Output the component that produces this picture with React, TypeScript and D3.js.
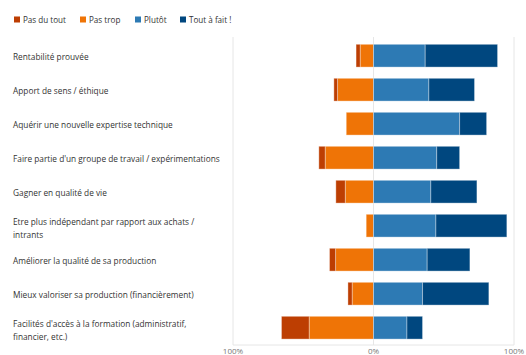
import React from "react";
import * as d3 from "d3";

const categories = [
  "Rentabilité prouvée",
  "Apport de sens / éthique",
  "Aquérir une nouvelle expertise technique",
  "Faire partie d'un groupe de travail / expérimentations",
  "Gagner en qualité de vie",
  "Etre plus indépendant par rapport aux achats /\nintrants",
  "Améliorer la qualité de sa production",
  "Mieux valoriser sa production (financièrement)",
  "Facilités d'accès à la formation (administratif,\nfinancier, etc.)",
];
const seriesNames = ["Pas du tout", "Pas trop", "Plutôt", "Tout à fait !"];
const pasDuTout = [2.9, 2.6, 0, 4.5, 6.7, 0, 4.3, 3.0, 19.7];
const pasTrop = [9.5, 25.6, 19.4, 34.4, 20.1, 5.2, 27.0, 15.2, 45.8];
const plutot = [36.8, 39.4, 61.3, 45.0, 40.8, 44.4, 38.2, 34.9, 23.8];
const toutAFait = [51.5, 32.5, 19.2, 16.3, 32.8, 50.5, 30.4, 47.2, 11.1];
const ticks = [-100, 0, 100];
const tickLabels = ["100%", "0%", "100%"];

const colors = ["#bd3e02", "#ef7406", "#2d7ab4", "#00477f"];
const FONT = "'Open Sans', 'Noto Sans', sans-serif";

export default function App() {
  const W = 526, H = 355;
  const x = d3.scaleLinear().domain([-100, 100]).range([233, 514]);
  const y = d3
    .scaleBand<string>()
    .domain(categories)
    .range([38.7, 344.7])
    .paddingInner(0.33)
    .paddingOuter(0.165);

  const bars: { x0: number; x1: number; y: number; h: number; c: string; key: string }[] = [];
  categories.forEach((cat, i) => {
    const yy = y(cat)!;
    const h = y.bandwidth();
    const a = pasTrop[i];
    const b = pasDuTout[i];
    if (a > 0) bars.push({ x0: x(-a), x1: x(0), y: yy, h, c: colors[1], key: `pt${i}` });
    if (b > 0) bars.push({ x0: x(-a - b), x1: x(-a), y: yy, h, c: colors[0], key: `pd${i}` });
    const p = plutot[i];
    const t = toutAFait[i];
    bars.push({ x0: x(0), x1: x(p), y: yy, h, c: colors[2], key: `pl${i}` });
    bars.push({ x0: x(p), x1: x(p + t), y: yy, h, c: colors[3], key: `tf${i}` });
  });

  const legendX = [14, 80, 135, 180];

  return (
    <svg width={W} height={H} style={{ position: "absolute", left: 0, top: 0, background: "#fff" }}>
      {seriesNames.map((s, i) => (
        <g key={s}>
          <rect x={legendX[i]} y={16.5} width={6} height={6} fill={colors[i]} />
          <text x={legendX[i] + 9} y={22.5} fontFamily={FONT} fontSize={8.1} fill="#333">
            {s}
          </text>
        </g>
      ))}
      {ticks.map((t) => (
        <line key={t} x1={x(t)} x2={x(t)} y1={37} y2={345} stroke="#e6e6e6" strokeWidth={1} />
      ))}
      <line x1={x(-100)} x2={x(100)} y1={345} y2={345} stroke="#e6e6e6" strokeWidth={1} />
      {bars.map((b) => (
        <rect
          key={b.key}
          x={b.x0}
          y={b.y}
          width={Math.max(0, b.x1 - b.x0)}
          height={b.h}
          fill={b.c}
          stroke="#ffffff"
          strokeOpacity={0.35}
          strokeWidth={1}
        />
      ))}
      {categories.map((cat) => {
        const lines = cat.split("\n");
        const cy = y(cat)! + y.bandwidth() / 2;
        const start = lines.length === 1 ? cy + 4.5 : cy - 1;
        return (
          <text key={cat} fontFamily={FONT} fontSize={8.3} fill="#333">
            {lines.map((l, j) => (
              <tspan key={j} x={13} y={start + j * 13}>
                {l}
              </tspan>
            ))}
          </text>
        );
      })}
      {ticks.map((t, i) => (
        <text key={t} x={x(t)} y={353.5} textAnchor="middle" fontFamily={FONT} fontSize={8} fill="#777">
          {tickLabels[i]}
        </text>
      ))}
    </svg>
  );
}
